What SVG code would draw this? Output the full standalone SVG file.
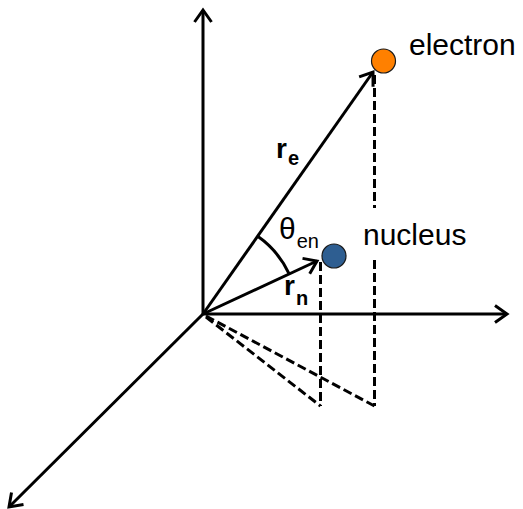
<svg xmlns="http://www.w3.org/2000/svg" width="523" height="509" viewBox="0 0 523 509">
  <style>
    .ax { stroke: #000; stroke-width: 3; fill: none; }
    .dash { stroke: #000; stroke-width: 3; fill: none; stroke-dasharray: 9 4; }
    .lbl { font-family: "Liberation Sans", Arial, sans-serif; font-size: 30px; fill: #000; }
    .vec { font-family: "Liberation Sans", Arial, sans-serif; font-size: 28px; font-weight: bold; fill: #000; }
    .sub { font-size: 20px; }
  </style>
  <defs>
    <marker id="arr" markerUnits="userSpaceOnUse" markerWidth="30" markerHeight="30" viewBox="-15 -15 30 30" refX="0" refY="0" orient="auto">
      <path d="M-12,-8.5 L0,0 L-12,8.5" fill="none" stroke="#000" stroke-width="3" stroke-linejoin="miter"/>
    </marker>
  </defs>
  <rect width="523" height="509" fill="#fff"/>
  <g id="connectors">
    <line class="ax" x1="203" y1="314" x2="203" y2="10" marker-end="url(#arr)"/>
    <line class="ax" x1="203" y1="314" x2="507" y2="314" marker-end="url(#arr)"/>
    <line class="ax" x1="203" y1="314" x2="9" y2="507" marker-end="url(#arr)"/>
    <line class="ax" x1="203" y1="314" x2="373" y2="72" marker-end="url(#arr)"/>
    <line class="ax" x1="203" y1="314" x2="317" y2="261" marker-end="url(#arr)"/>
    <path class="ax" d="M257.7,236.3 A95,95 0 0 1 289,273.6"/>
    <line class="dash" x1="374.5" y1="75" x2="374.5" y2="208"/>
    <line class="dash" x1="374.5" y1="260" x2="374.5" y2="406"/>
    <line class="dash" x1="320.5" y1="262" x2="320.5" y2="406"/>
    <line class="dash" x1="206" y1="317" x2="320.5" y2="406"/>
    <line class="dash" x1="206" y1="316" x2="374.5" y2="406"/>
  </g>
  <g id="electron">
    <circle cx="383.5" cy="61" r="12" fill="#FF8000" stroke="#1a1a1a" stroke-width="1.2"/>
    <text class="lbl" x="409" y="55">electron</text>
  </g>
  <g id="nucleus">
    <circle cx="334" cy="256" r="12" fill="#2E5E91" stroke="#1a1a1a" stroke-width="1.2"/>
    <text class="lbl" x="363" y="245">nucleus</text>
  </g>
  <g id="labels">
    <text class="lbl" x="279" y="239">θ<tspan class="sub" dx="1" dy="8.5">en</tspan></text>
    <text class="vec" x="276" y="158">r<tspan class="sub" dx="1" dy="7">e</tspan></text>
    <text class="vec" x="284" y="295">r<tspan class="sub" dx="1" dy="10">n</tspan></text>
  </g>
</svg>
